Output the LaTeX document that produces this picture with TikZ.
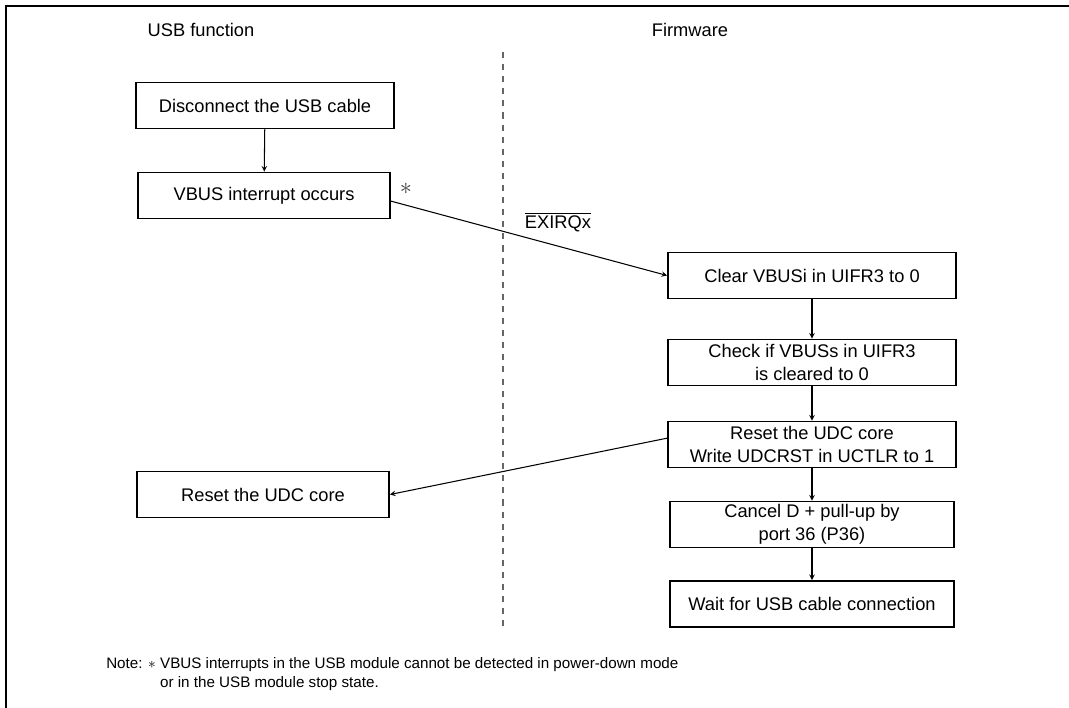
\documentclass[tikz,border=0pt]{standalone}
\usepackage{fontspec}
\setmainfont{Liberation Sans}
\begin{document}
\begin{tikzpicture}[
  x=0.025cm, y=-0.025cm,
  box/.style={draw, line width=1.3pt, minimum height=1.15cm, inner sep=2pt, align=center, font=\fontsize{13}{16}\selectfont},
  lbox/.style={box, minimum width=6.3cm},
  fbox/.style={box, minimum width=7.2cm},
  lbl/.style={font=\fontsize{13}{16}\selectfont},
  flow/.style={->, line width=0.75pt},
  >=stealth
]
  \useasboundingbox (0,0) rectangle (1069,708);
  % Frame
  \draw[line width=1.8pt] (1069,6) -- (6,6) -- (6,708);
  % Column heads
  \node[lbl] (usbhead) at (201,30) {USB function};
  \node[lbl] (fwhead) at (690,30) {Firmware};
  % Divider
  \coordinate (divtop) at (503,52);
  \coordinate (divbot) at (503,630);
  \draw[gray!80!black, line width=0.8pt, dash pattern=on 4.3pt off 4.3pt] (divtop) -- (divbot);
  % USB function side
  \node[lbox, minimum width=6.45cm] (U1) at (265,105.5) {Disconnect the USB cable};
  \node[lbox] (U2) at (264,195.5) {VBUS interrupt occurs};
  \node[lbox] (U3) at (263,494.5) {Reset the UDC core};
  % Firmware side
  \node[fbox] (F1) at (812,275.5) {Clear VBUSi in UIFR3 to 0};
  \node[fbox] (F2) at (812,362.5) {Check if VBUSs in UIFR3\\is cleared to 0};
  \node[fbox] (F3) at (812,444.5) {Reset the UDC core\\Write UDCRST in UCTLR to 1};
  \node[fbox, minimum width=7.1cm] (F4) at (812,524.5) {Cancel D + pull-up by\\port 36 (P36)};
  \node[fbox, minimum width=7.1cm] (F5) at (812,604) {Wait for USB cable connection};
  % Flow
  \draw[flow] (U1) -- (U2);
  \foreach \a/\b in {F1/F2, F2/F3, F3/F4, F4/F5} {
    \draw[flow] (\a) -- (\b);
  }
  \draw[flow] ([yshift=-4pt]U2.east) -- (F1.west);
  \draw[flow] ([yshift=4.5pt]F3.west) -- (U3.east);
  % Labels on the interrupt line
  \node[font=\fontsize{17}{17}\selectfont, text=black!75] (star) at (406,189) {$\ast$};
  \node[lbl] (irq) at (558,222) {$\overline{\mbox{EXIRQx}}$};
  % Note
  \node[anchor=north west, inner sep=0pt, font=\fontsize{10.8}{14}\selectfont] (note) at (106,654)
    {\begin{tabular}{@{}l@{\hspace{3pt}}l@{}}
      Note: $\ast$ & VBUS interrupts in the USB module cannot be detected in power-down mode\\
                   & or in the USB module stop state.
    \end{tabular}};
\end{tikzpicture}
\end{document}
